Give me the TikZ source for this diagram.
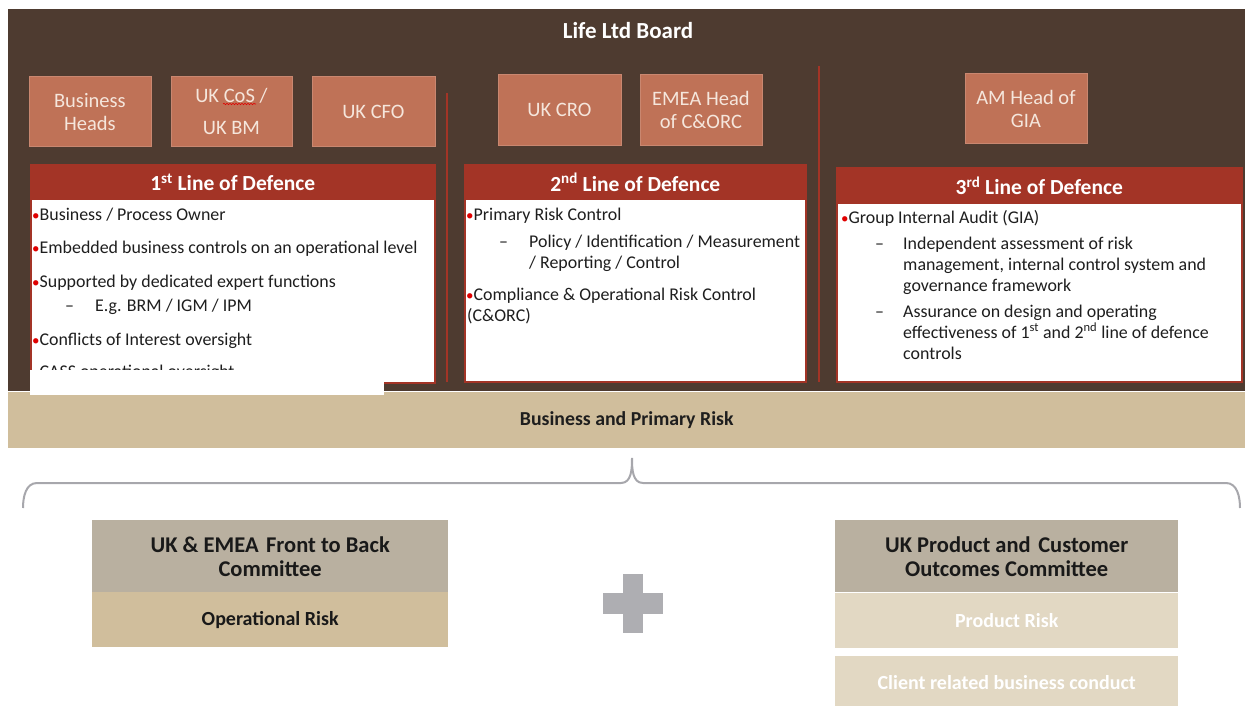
\documentclass[tikz,border=0pt]{standalone}
\usepackage{fontspec}
\setmainfont{Carlito}
\usetikzlibrary{decorations.pathmorphing}
\definecolor{bgdark}{HTML}{4E3B30}
\definecolor{salmon}{HTML}{BF7257}
\definecolor{salmontext}{HTML}{F5E6DC}
\definecolor{lodred}{HTML}{A33426}
\definecolor{tanc}{HTML}{D0BE9C}
\definecolor{greytan}{HTML}{B9B0A0}
\definecolor{lighttan}{HTML}{E2D8C3}
\definecolor{bracegrey}{HTML}{A7A7AC}
\definecolor{plusgrey}{HTML}{AEAEB2}
\definecolor{bodytext}{HTML}{1E1E1E}
\definecolor{bulred}{HTML}{E00000}
\newcommand{\bul}{\textcolor{bulred}{\fontsize{15}{15}\selectfont•}}
\tikzset{
  rolebox/.style={fill=salmon, draw=salmon!85!white, line width=0.8pt, anchor=north west,
    inner sep=0pt, text=salmontext, font=\fontsize{20.5}{23}\selectfont, align=center},
  lodbox/.style={fill=white, draw=lodred, line width=2.6pt, anchor=north west, inner sep=0pt},
  lodhead/.style={fill=lodred, draw=lodred, line width=2.6pt, anchor=north west, inner sep=0pt,
    text=white, font=\fontsize{21.5}{24}\selectfont\bfseries},
  listtxt/.style={anchor=base west, inner sep=0pt, text=bodytext, font=\fontsize{17.9}{21}\selectfont},
  sepline/.style={draw=lodred, line width=2.6pt},
  comhead/.style={fill=greytan, anchor=north west, inner sep=0pt, align=center,
    text=black!90, font=\fontsize{22.5}{24}\selectfont\bfseries},
  comsub/.style={anchor=north west, inner sep=0pt, font=\fontsize{20}{22}\selectfont\bfseries},
}
\begin{document}
\begin{tikzpicture}[x=1pt,y=-1pt]
\useasboundingbox (0,0) rectangle (1245,706);
% backgrounds
\fill[bgdark] (8,9) rectangle (1245,391);
\node[fill=tanc, anchor=north west, inner sep=0pt, minimum width=1237, minimum height=56,
  font=\fontsize{19.8}{22}\selectfont\bfseries, text=bodytext] (bpr) at (8,392) {Business and Primary Risk};
\node[text=white, font=\fontsize{23}{25}\selectfont\bfseries] (board) at (628,31) {Life Ltd Board};
% role boxes
\node[rolebox, minimum width=122, minimum height=70] (bh) at (28.5,76.5) {Business\\Heads};
\node[rolebox, minimum width=121, minimum height=70] (cos) at (170.5,76.5) {UK CoS /\\[9pt]UK BM};
\draw[bulred, line width=0.6pt, decorate, decoration={snake, amplitude=0.7pt, segment length=3pt}] (223,104) -- (256,104);
\node[rolebox, minimum width=123, minimum height=70] (cfo) at (311.5,76.5) {UK CFO};
\node[rolebox, minimum width=123, minimum height=71] (cro) at (497.5,74.5) {UK CRO};
\node[rolebox, minimum width=122, minimum height=71] (emea) at (639.5,74.5) {EMEA Head\\of C\&ORC};
\node[rolebox, minimum width=122, minimum height=70] (gia) at (964.5,73.5) {AM Head of\\GIA};
% separators
\draw[sepline] (447,93) -- (447,382);
\draw[sepline] (819,66) -- (819,382);
% 1st line
\node[lodbox, minimum width=404, minimum height=217] (lod1) at (29.5,164.5) {};
\node[lodhead, minimum width=404, minimum height=33] (lod1h) at (29.5,164.5) {1\textsuperscript{st} Line of Defence};
\node[listtxt] (l1a) at (32,220) {\bul Business / Process Owner};
\node[listtxt] (l1b) at (32,253) {\bul Embedded business controls on an operational level};
\node[listtxt] (l1c) at (32,287) {\bul Supported by dedicated expert functions};
\node[listtxt] (l1d) at (65,311) {–};
\node[listtxt] (l1e) at (95,311) {E.g. BRM / IGM / IPM};
\node[listtxt] (l1f) at (32,345) {\bul Conflicts of Interest oversight};
\node[listtxt] (l1g) at (32,377) {\bul CASS operational oversight};
\fill[white] (30,369.5) rectangle (384,395);
% 2nd line
\node[lodbox, minimum width=341, minimum height=216] (lod2) at (463.5,164.5) {};
\node[lodhead, minimum width=341, minimum height=33] (lod2h) at (463.5,164.5) {2\textsuperscript{nd} Line of Defence};
\node[listtxt] (l2a) at (466,220) {\bul Primary Risk Control};
\node[listtxt] (l2b) at (499,247) {–};
\node[listtxt] (l2c) at (529,247) {Policy / Identification / Measurement};
\node[listtxt] (l2d) at (529,268) {/ Reporting / Control};
\node[listtxt] (l2e) at (466,300) {\bul Compliance \& Operational Risk Control};
\node[listtxt] (l2f) at (467,321) {(C\&ORC)};
% 3rd line
\node[lodbox, minimum width=405, minimum height=213] (lod3) at (835.5,167.5) {};
\node[lodhead, minimum width=405, minimum height=34] (lod3h) at (835.5,167.5) {3\textsuperscript{rd} Line of Defence};
\node[listtxt] (l3a) at (841,223) {\bul Group Internal Audit (GIA)};
\node[listtxt] (l3b) at (875,249) {–};
\node[listtxt] (l3c) at (903,249) {Independent assessment of risk};
\node[listtxt] (l3d) at (903,270) {management, internal control system and};
\node[listtxt] (l3e) at (903,291) {governance framework};
\node[listtxt] (l3f) at (875,317) {–};
\node[listtxt] (l3g) at (903,317) {Assurance on design and operating};
\node[listtxt] (l3h) at (903,338) {effectiveness of 1\textsuperscript{st} and 2\textsuperscript{nd} line of defence};
\node[listtxt] (l3i) at (903,359) {controls};
% brace
\coordinate (brL) at (23,508);
\coordinate (brT) at (632,458);
\coordinate (brR) at (1240,508);
\draw[bracegrey, line width=2pt] (brL) to[out=90,in=180] (37,483) -- (621,483)
  to[out=0,in=270] (brT) to[out=270,in=180] (643,483) -- (1226,483) to[out=0,in=90] (brR);
% committees
\node[comhead, minimum width=356, minimum height=72] (f2b) at (92,520) {UK \& EMEA\,\,Front to Back\\Committee};
\node[comsub, fill=tanc, text=black!90, minimum width=356, minimum height=55] (opr) at (92,592) {Operational Risk};
\node[comhead, minimum width=343, minimum height=72] (pco) at (835,520) {UK Product and\,\,Customer\\Outcomes Committee};
\node[comsub, fill=lighttan, text=white, minimum width=343, minimum height=55] (prr) at (835,593) {Product Risk};
\node[comsub, fill=lighttan, text=white, minimum width=343, minimum height=52] (crb) at (835,656) {Client related business conduct};
% plus
\fill[plusgrey] (623,574) rectangle (643,633);
\fill[plusgrey] (603,593) rectangle (663,614);
\end{tikzpicture}
\end{document}
